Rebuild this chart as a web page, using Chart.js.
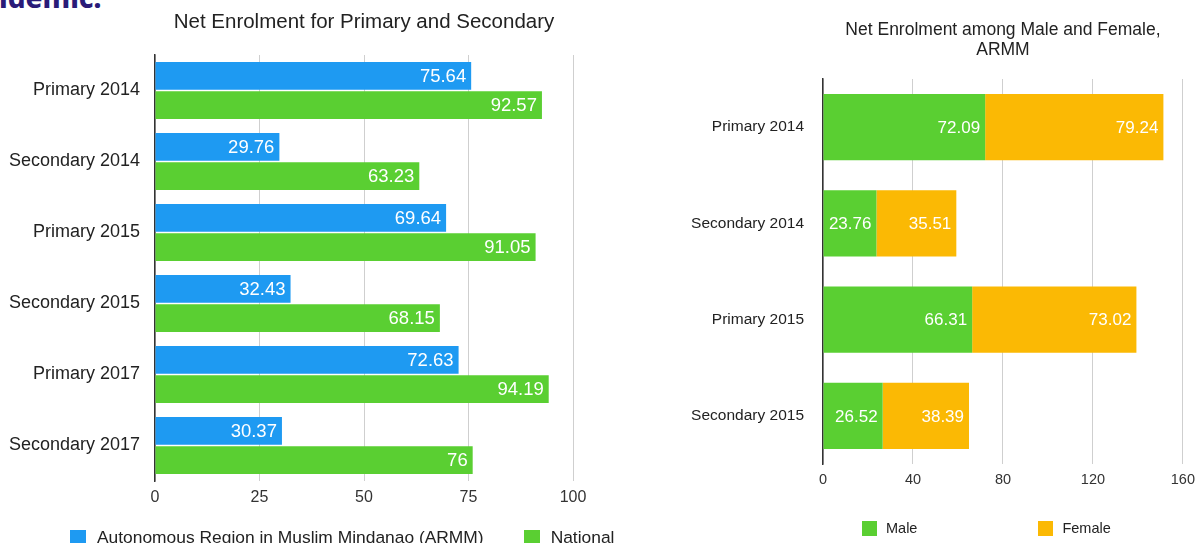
<!DOCTYPE html>
<html lang="en">
<head>
<meta charset="UTF-8">
<title>Net Enrolment</title>
<style>
  html, body { margin: 0; padding: 0; background: #fff; }
  body { width: 1195px; height: 543px; overflow: hidden; position: relative; font-family: 'Liberation Sans', Arial, Helvetica, sans-serif; }
  #heading { position: absolute; left: -1px; top: -17px; font-family: 'Noto Sans', sans-serif; font-weight: 800; font-size: 28px; line-height: 28px; color: #2a1b78; white-space: nowrap; }
  .panel { position: absolute; top: 0; }
  #leftPanel { left: 0; width: 620px; height: 543px; }
  #rightPanel { left: 640px; width: 562px; height: 543px; }
  .legend { position: absolute; display: flex; align-items: center; white-space: nowrap; color: #222; }
  .legend .item { display: flex; align-items: center; }
  .legend .box { display: inline-block; }
  #leftLegend { left: 70px; top: 527px; font-size: 17.4px; gap: 40px; }
  #leftLegend .box { width: 16px; height: 16px; margin-right: 11px; }
  #rightLegend { left: 862px; top: 520px; font-size: 14.5px; gap: 121px; }
  #rightLegend .box { width: 15px; height: 15px; margin-right: 9px; }
</style>
</head>
<body>
<div id="heading">idemic.</div>
<div class="panel" id="leftPanel"><canvas id="leftChart"></canvas></div>
<div class="panel" id="rightPanel"><canvas id="rightChart"></canvas></div>
<div class="legend" id="leftLegend"></div>
<div class="legend" id="rightLegend"></div>

<script src="https://cdn.jsdelivr.net/npm/chart.js"></script>
<script>
    // left chart data
    const leftCategories = ['Primary 2014', 'Secondary 2014', 'Primary 2015', 'Secondary 2015', 'Primary 2017', 'Secondary 2017'];
    const armmValues = [75.64, 29.76, 69.64, 32.43, 72.63, 30.37];
    const nationalValues = [92.57, 63.23, 91.05, 68.15, 94.19, 76];
    const leftTicks = [0, 25, 50, 75, 100];

    // right chart data
    const rightCategories = ['Primary 2014', 'Secondary 2014', 'Primary 2015', 'Secondary 2015'];
    const maleValues = [72.09, 23.76, 66.31, 26.52];
    const femaleValues = [79.24, 35.51, 73.02, 38.39];
    const rightTicks = [0, 40, 80, 120, 160];

    const FONT = "'Liberation Sans', Arial, Helvetica, sans-serif";
    const BLUE = 'rgb(30, 154, 242)';
    const GREEN = 'rgb(90, 207, 50)';
    const ORANGE = 'rgb(251, 185, 4)';

    Chart.defaults.font.family = FONT;
    Chart.defaults.color = '#333';

    // title centred over the plot area
    const areaTitle = {
        id: 'areaTitle',
        afterDraw(chart, args, opts) {
            const { ctx, chartArea } = chart;
            ctx.save();
            ctx.font = opts.size + 'px ' + FONT;
            ctx.fillStyle = '#222';
            ctx.textAlign = 'center';
            ctx.textBaseline = 'middle';
            const cx = (chartArea.left + chartArea.right) / 2;
            opts.lines.forEach((t, i) => ctx.fillText(t, cx, opts.y + i * opts.gap));
            ctx.restore();
        }
    };

    // white value text at the end of each bar
    const barValues = {
        id: 'barValues',
        afterDatasetsDraw(chart, args, opts) {
            const ctx = chart.ctx;
            ctx.save();
            ctx.font = opts.size + 'px ' + FONT;
            ctx.fillStyle = '#fff';
            ctx.textAlign = 'right';
            ctx.textBaseline = 'middle';
            chart.data.datasets.forEach((ds, i) => {
                chart.getDatasetMeta(i).data.forEach((bar, j) => {
                    ctx.fillText(String(ds.data[j]), bar.x - 5, bar.y + 1);
                });
            });
            ctx.restore();
        }
    };

    function makeChart(id, cfg) {
        const canvas = document.getElementById(id);
        canvas.width = cfg.width;
        canvas.height = cfg.height;
        return new Chart(canvas, {
            type: 'bar',
            data: { labels: cfg.labels, datasets: cfg.datasets },
            plugins: [areaTitle, barValues],
            options: {
                indexAxis: 'y',
                responsive: false,
                animation: false,
                devicePixelRatio: 1,
                layout: { padding: cfg.padding },
                plugins: {
                    legend: { display: false },
                    title: { display: false },
                    tooltip: { enabled: false },
                    areaTitle: cfg.title,
                    barValues: { size: cfg.valueSize }
                },
                scales: {
                    x: {
                        stacked: cfg.stacked,
                        min: cfg.ticks[0],
                        max: cfg.ticks[cfg.ticks.length - 1],
                        afterFit: s => { s.height = 30; },
                        ticks: { stepSize: cfg.ticks[1] - cfg.ticks[0], padding: 7, font: { size: cfg.tickSize }, color: '#333' },
                        grid: { color: '#cfcfcf', lineWidth: 1, drawTicks: false },
                        border: { display: false }
                    },
                    y: {
                        stacked: cfg.stacked,
                        afterFit: s => { s.width = cfg.axisLeft; },
                        ticks: { padding: cfg.labelPad, font: { size: cfg.labelSize }, color: '#222' },
                        grid: { display: false, drawTicks: false },
                        border: { display: true, color: '#333', width: 1.5 }
                    }
                }
            }
        });
    }

    const leftChart = makeChart('leftChart', {
        width: 620, height: 543,
        labels: leftCategories,
        stacked: false,
        ticks: leftTicks,
        padding: { top: 55, right: 47, bottom: 32, left: 0 },
        axisLeft: 155, labelPad: 15,
        tickSize: 16, labelSize: 18, valueSize: 18.5,
        title: { lines: ['Net Enrolment for Primary and Secondary'], y: 22, gap: 0, size: 20.5 },
        datasets: [
            { label: 'Autonomous Region in Muslim Mindanao (ARMM)', data: armmValues, backgroundColor: BLUE, categoryPercentage: 0.82, barPercentage: 0.95 },
            { label: 'National', data: nationalValues, backgroundColor: GREEN, categoryPercentage: 0.82, barPercentage: 0.95 }
        ]
    });

    // canvas runs past the window edge so the last tick label is clipped like the original
    const rightChart = makeChart('rightChart', {
        width: 562, height: 543,
        labels: rightCategories,
        stacked: true,
        ticks: rightTicks,
        padding: { top: 79, right: 12, bottom: 49, left: 0 },
        axisLeft: 183, labelPad: 19,
        tickSize: 14.5, labelSize: 15.5, valueSize: 17,
        title: { lines: ['Net Enrolment among Male and Female,', 'ARMM'], y: 30, gap: 20, size: 17.5 },
        datasets: [
            { label: 'Male', data: maleValues, backgroundColor: GREEN, categoryPercentage: 1, barPercentage: 0.69 },
            { label: 'Female', data: femaleValues, backgroundColor: ORANGE, categoryPercentage: 1, barPercentage: 0.69 }
        ]
    });

    // html legends built from the chart datasets
    function buildLegend(chart, elId) {
        const el = document.getElementById(elId);
        chart.data.datasets.forEach(ds => {
            const item = document.createElement('span');
            item.className = 'item';
            const box = document.createElement('span');
            box.className = 'box';
            box.style.background = ds.backgroundColor;
            item.appendChild(box);
            item.appendChild(document.createTextNode(ds.label));
            el.appendChild(item);
        });
    }
    buildLegend(leftChart, 'leftLegend');
    buildLegend(rightChart, 'rightLegend');
</script>
</body>
</html>
